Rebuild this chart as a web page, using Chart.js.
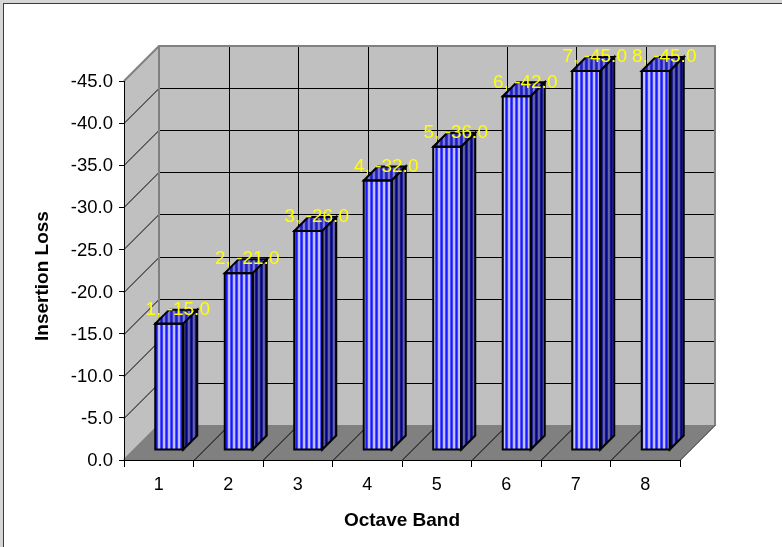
<!DOCTYPE html>
<html>
<head>
<meta charset="utf-8">
<title>Insertion Loss</title>
<script src="https://cdn.jsdelivr.net/npm/chart.js@4/dist/chart.umd.min.js"></script>
<style>
  html, body { margin: 0; padding: 0; background: #fff; }
  canvas { display: block; }
</style>
</head>
<body>
<canvas id="myChart" width="782" height="547"></canvas>
<script>
const bands = ['1', '2', '3', '4', '5', '6', '7', '8'];
const insertionLoss = [-15, -21, -26, -32, -36, -42, -45, -45];

const FONT = '"Liberation Sans", Arial, sans-serif';
const WALL_DEPTH = 35;   // decalage du fond de la scene 3D
const BAR_SHIFT = 10;    // les barres sont posees un peu en retrait
const BAR_DEPTH = 14;

// Motif a rayures verticales
function stripes(colors) {
    const c = document.createElement('canvas');
    c.width = colors.length;
    c.height = 1;
    const g = c.getContext('2d');
    colors.forEach((col, i) => {
        g.fillStyle = col;
        g.fillRect(i, 0, 1, 1);
    });
    return g.createPattern(c, 'repeat');
}

const frontFill = stripes(['#1818ff', '#1818ff', '#7070ff', '#ffffff', '#8888ff']);
const sideFill = stripes(['#000088', '#000088', '#404098', '#8888a8', '#303090']);
const topFill = stripes(['#1c1cc0', '#1c1cc0', '#5050d0', '#a8a8d8', '#4040c8']);

// Murs, sol et grille de la scene
const scenePlugin = {
    id: 'scene',
    beforeDraw(chart) {
        const { ctx, chartArea: a, scales: { x, y } } = chart;
        const d = WALL_DEPTH;
        ctx.save();

        // cadre de l'image
        ctx.fillStyle = '#d6d6d6';
        ctx.fillRect(0, 0, 782, 3);
        ctx.fillRect(0, 0, 3, 547);
        ctx.fillStyle = '#3c3c3c';
        ctx.fillRect(3, 3, 779, 1);
        ctx.fillRect(3, 3, 1, 544);

        // mur du fond + mur gauche
        ctx.fillStyle = '#c0c0c0';
        ctx.fillRect(a.left + d, a.top - d, a.width, a.height);
        poly(ctx, [[a.left, a.top], [a.left + d, a.top - d], [a.left + d, a.bottom - d], [a.left, a.bottom]]);
        ctx.closePath();
        ctx.fill();

        // sol
        ctx.fillStyle = '#808080';
        poly(ctx, [[a.left, a.bottom], [a.right, a.bottom], [a.right + d, a.bottom - d], [a.left + d, a.bottom - d]]);
        ctx.closePath();
        ctx.fill();

        // grille horizontale
        ctx.strokeStyle = '#000';
        ctx.lineWidth = 1;
        y.ticks.forEach(t => {
            if (t.value === 0 || t.value === y.min) return;
            const py = Math.round(y.getPixelForValue(t.value)) + 0.5;
            line(ctx, a.left, py, a.left + d, py - d);
            line(ctx, a.left + d, py - d, a.right + d, py - d);
        });

        // grille verticale + diagonales du sol
        const step = a.width / bands.length;
        for (let i = 1; i <= bands.length; i++) {
            const px = Math.round(a.left + i * step) + 0.5;
            if (i < bands.length) line(ctx, px + d, a.top - d, px + d, a.bottom - d);
            line(ctx, px, a.bottom, px + d, a.bottom - d);
        }

        // aretes grises des murs
        ctx.strokeStyle = '#808080';
        ctx.lineWidth = 2;
        poly(ctx, [[a.left, a.top], [a.left + d, a.top - d], [a.right + d, a.top - d], [a.right + d, a.bottom - d]]);
        ctx.stroke();
        line(ctx, a.left + d, a.top - d, a.left + d, a.bottom - d);
        line(ctx, a.left, a.bottom, a.left + d, a.bottom - d);

        ctx.restore();
    },
    beforeDatasetsDraw(chart) {
        chart.ctx.save();
        chart.ctx.translate(BAR_SHIFT + 0.5, -BAR_SHIFT);
    },
    afterDatasetsDraw(chart) {
        const { ctx } = chart;
        const bars = chart.getDatasetMeta(0).data;

        // contour de la face avant + faces du dessus et de cote
        bars.forEach(b => {
            const l = b.x - b.width / 2;
            const r = b.x + b.width / 2;
            const k = BAR_DEPTH;
            ctx.lineWidth = 2;
            ctx.strokeStyle = '#000';
            ctx.fillStyle = topFill;
            poly(ctx, [[l, b.y], [l + k, b.y - k], [r + k, b.y - k], [r, b.y]]);
            ctx.closePath();
            ctx.fill();
            ctx.stroke();
            ctx.fillStyle = sideFill;
            poly(ctx, [[r, b.y], [r + k, b.y - k], [r + k, b.base - k], [r, b.base]]);
            ctx.closePath();
            ctx.fill();
            ctx.stroke();
            ctx.strokeRect(l, b.y, b.width, b.base - b.y);
        });
        ctx.restore();

        // etiquettes de valeur
        ctx.save();
        ctx.font = '19px ' + FONT;
        ctx.fillStyle = '#ffff00';
        ctx.textAlign = 'center';
        ctx.textBaseline = 'middle';
        bars.forEach((b, i) => {
            const label = bands[i] + ', ' + insertionLoss[i].toFixed(1);
            ctx.fillText(label, b.x + BAR_SHIFT + 9, b.y - BAR_SHIFT - 14);
        });
        ctx.restore();
    },
    afterDraw(chart) {
        // titre de l'axe Y, centre sur la scene et pas sur l'axe
        const { ctx } = chart;
        ctx.save();
        ctx.translate(43, 276);
        ctx.rotate(-Math.PI / 2);
        ctx.font = 'bold 19px ' + FONT;
        ctx.fillStyle = '#000';
        ctx.textAlign = 'center';
        ctx.textBaseline = 'middle';
        ctx.fillText('Insertion Loss', 0, 0);
        ctx.restore();
    }
};

function poly(ctx, pts) {
    ctx.beginPath();
    pts.forEach((p, i) => (i ? ctx.lineTo(p[0], p[1]) : ctx.moveTo(p[0], p[1])));
}

function line(ctx, x1, y1, x2, y2) {
    ctx.beginPath();
    ctx.moveTo(x1, y1);
    ctx.lineTo(x2, y2);
    ctx.stroke();
}

new Chart(document.getElementById('myChart'), {
    type: 'bar',
    data: {
        labels: bands,
        datasets: [{
            data: insertionLoss,
            backgroundColor: frontFill,
            borderWidth: 0,
            barThickness: 28
        }]
    },
    options: {
        responsive: false,
        animation: false,
        layout: { padding: { left: 0, right: 102, top: 81, bottom: 0 } },
        plugins: { legend: { display: false }, tooltip: { enabled: false } },
        scales: {
            x: {
                afterFit(scale) { scale.height = 87; },
                grid: { drawOnChartArea: false, color: '#000', tickLength: 7, offset: true },
                border: { color: '#000', width: 1 },
                ticks: { color: '#000', padding: 7, maxRotation: 0, font: { family: FONT, size: 18 } },
                title: {
                    display: true,
                    text: 'Octave Band',
                    color: '#000',
                    padding: { top: 0, bottom: 15 },
                    font: { family: FONT, size: 19, weight: 'bold' }
                }
            },
            y: {
                reverse: true,
                min: -45,
                max: 0,
                afterFit(scale) { scale.width = 124; },
                grid: { drawOnChartArea: false, color: '#000', tickLength: 5 },
                border: { color: '#000', width: 1 },
                ticks: {
                    stepSize: 5,
                    color: '#000',
                    padding: 6,
                    labelOffset: 1,
                    font: { family: FONT, size: 18.5 },
                    callback: v => v.toFixed(1)
                }
            }
        }
    },
    plugins: [scenePlugin]
});
</script>
</body>
</html>
